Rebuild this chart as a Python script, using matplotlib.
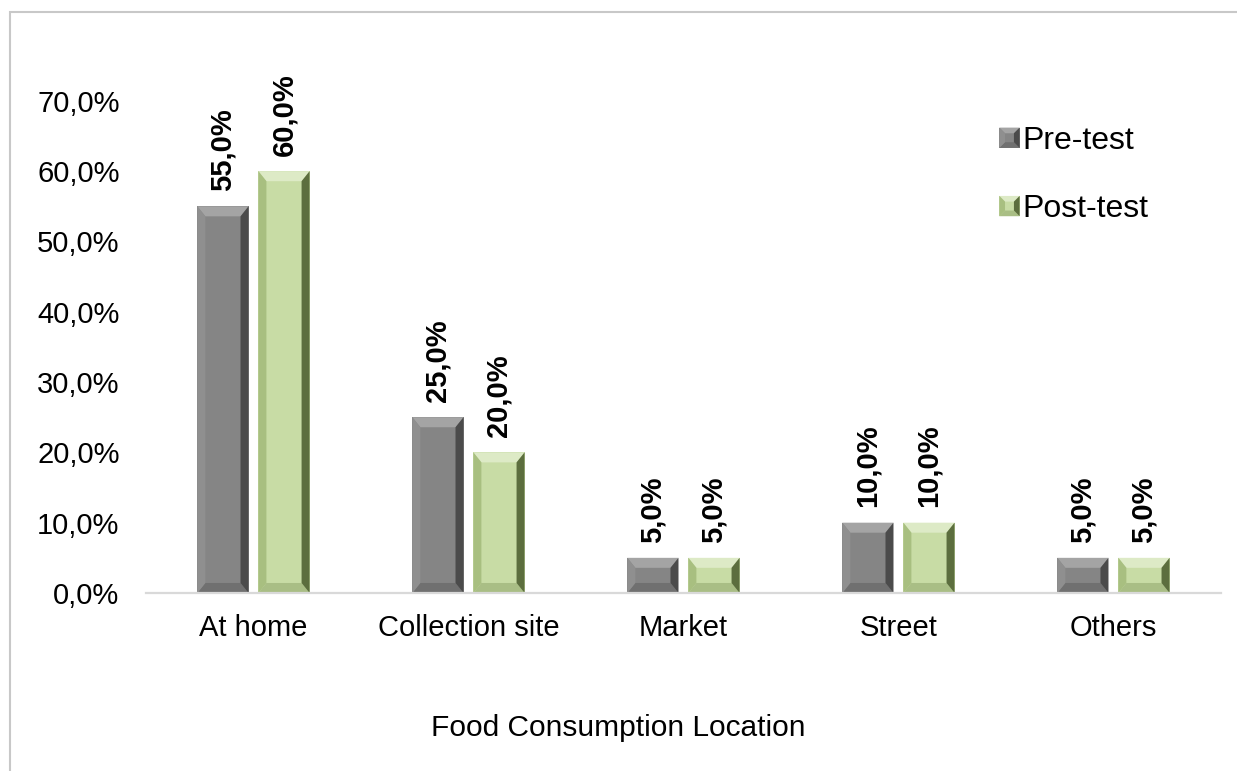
import matplotlib
matplotlib.use("Agg")
import matplotlib.pyplot as plt
from matplotlib.patches import Polygon, Rectangle
from matplotlib.legend_handler import HandlerBase

# --- datos ---
categories = ["At home", "Collection site", "Market", "Street", "Others"]
pre_test = [55.0, 25.0, 5.0, 10.0, 5.0]
post_test = [60.0, 20.0, 5.0, 10.0, 5.0]
y_ticks = [0, 10, 20, 30, 40, 50, 60, 70]

# colores de la cara y del bisel (cara, arriba, izquierda, derecha, abajo)
PRE_COLORS = ("#858585", "#A4A4A4", "#8F8F8F", "#4B4B4B", "#707070")
POST_COLORS = ("#C8DCA5", "#DDEAC6", "#A8BF80", "#5C6E3E", "#A9BE85")

plt.rcParams.update({
    "font.family": ["Liberation Sans", "DejaVu Sans"],
    "font.size": 21,
    "figure.facecolor": "white",
    "axes.facecolor": "white",
})


def bevel(ax, x0, y0, w, h, colors, bx_px=8, by_px=10):
    """Dibuja una barra con efecto de bisel (estilo Excel)."""
    face, top, left, right, bottom = colors
    t = ax.transData
    px_x = t.transform((1, 0))[0] - t.transform((0, 0))[0]
    px_y = t.transform((0, 1))[1] - t.transform((0, 0))[1]
    bx = bx_px / px_x
    by = min(by_px / px_y, h / 2.5)
    x1, y1 = x0 + w, y0 + h
    ax.add_patch(Rectangle((x0, y0), w, h, facecolor=face, edgecolor="none", zorder=2))
    polys = [
        ([(x0, y1), (x1, y1), (x1 - bx, y1 - by), (x0 + bx, y1 - by)], top),
        ([(x0, y0), (x1, y0), (x1 - bx, y0 + by), (x0 + bx, y0 + by)], bottom),
        ([(x0, y0), (x0, y1), (x0 + bx, y1 - by), (x0 + bx, y0 + by)], left),
        ([(x1, y0), (x1, y1), (x1 - bx, y1 - by), (x1 - bx, y0 + by)], right),
    ]
    for pts, c in polys:
        ax.add_patch(Polygon(pts, closed=True, facecolor=c, edgecolor="none", zorder=3))


class BevelHandler(HandlerBase):
    def __init__(self, colors):
        super().__init__()
        self.colors = colors

    def create_artists(self, legend, orig_handle, xdescent, ydescent, width, height, fontsize, trans):
        face, top, left, right, bottom = self.colors
        s = height * 1.0
        x0 = width - s - 1
        y0 = -ydescent + (height - s) / 2
        x1, y1 = x0 + s, y0 + s
        b = s * 0.28
        arts = [Rectangle((x0, y0), s, s, facecolor=face, edgecolor="none", transform=trans)]
        polys = [
            ([(x0, y1), (x1, y1), (x1 - b, y1 - b), (x0 + b, y1 - b)], top),
            ([(x0, y0), (x1, y0), (x1 - b, y0 + b), (x0 + b, y0 + b)], bottom),
            ([(x0, y0), (x0, y1), (x0 + b, y1 - b), (x0 + b, y0 + b)], left),
            ([(x1, y0), (x1, y1), (x1 - b, y1 - b), (x1 - b, y0 + b)], right),
        ]
        for pts, c in polys:
            arts.append(Polygon(pts, closed=True, facecolor=c, edgecolor="none", transform=trans))
        return arts


fig = plt.figure(figsize=(12.37, 7.71), dpi=100)
ax = fig.add_axes([0.118, 0.2309, 0.869, 0.7294])
ax.set_xlim(-0.5, len(categories) - 0.5)
ax.set_ylim(0, 80)

# marco exterior del gráfico
fig.patches.append(Rectangle((10 / 1237, -0.05), 1.2, 1 - 12 / 771 + 0.05,
                             transform=fig.transFigure, facecolor="none",
                             edgecolor="#C8C8C8", linewidth=1.5, zorder=0))

width = 0.238
offset = 0.142
for i, (pre, post) in enumerate(zip(pre_test, post_test)):
    for val, dx, cols in ((pre, -offset, PRE_COLORS), (post, offset, POST_COLORS)):
        bevel(ax, i + dx - width / 2, 0, width, val, cols)
        ax.annotate(f"{val:.1f}%".replace(".", ","), xy=(i + dx, val),
                    xytext=(0, 11), textcoords="offset points",
                    rotation=90, ha="center", va="bottom",
                    fontsize=21, fontweight="bold", annotation_clip=False)

# ejes
for s in ("top", "right", "left"):
    ax.spines[s].set_visible(False)
ax.spines["bottom"].set_color("#D9D9D9")
ax.spines["bottom"].set_linewidth(1.6)
ax.spines["bottom"].set_zorder(4)
ax.set_xticks(range(len(categories)))
ax.set_xticklabels(categories)
ax.set_yticks(y_ticks)
ax.set_yticklabels([f"{v:.1f}%".replace(".", ",") for v in y_ticks])
ax.tick_params(axis="x", length=0, pad=15, labelsize=21)
ax.tick_params(axis="y", length=0, pad=19, labelsize=21)

fig.text(618 / 1237, 1 - 728 / 771, "Food Consumption Location",
         ha="center", va="center", fontsize=21.5)

# leyenda
h_pre = Rectangle((0, 0), 1, 1)
h_post = Rectangle((0, 0), 1, 1)
ax.legend([h_pre, h_post], ["Pre-test", "Post-test"],
          handler_map={h_pre: BevelHandler(PRE_COLORS), h_post: BevelHandler(POST_COLORS)},
          loc="upper left", bbox_to_anchor=(998 / 1237, 1 - 126 / 771),
          bbox_transform=fig.transFigure, frameon=False, fontsize=23,
          handlelength=0.72, handleheight=0.6, handletextpad=0.05,
          labelspacing=1.2, borderpad=0, borderaxespad=0)

fig.savefig("out.png", dpi=100)
